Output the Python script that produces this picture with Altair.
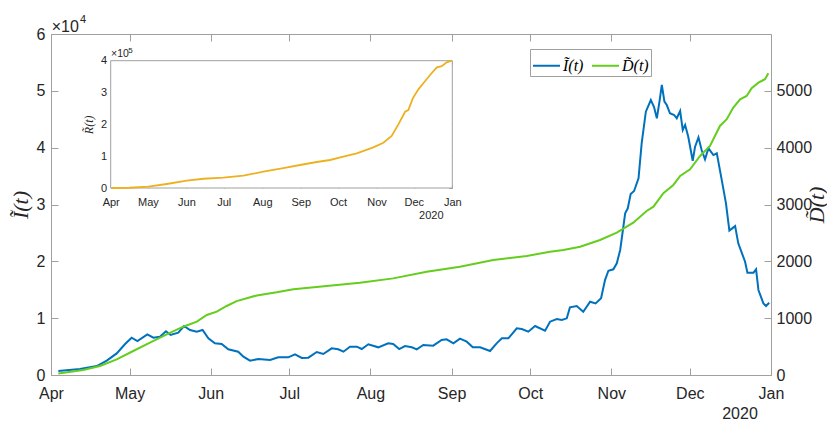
import altair as alt
import pandas as pd

# ---------------- data ----------------
START = pd.Timestamp("2020-04-01")

I_days = [2.8, 11.1, 17.5, 21.3, 25.1, 28.3, 30.8, 33, 36.8, 39.1,
          41.6, 43.9, 45.7, 48.6, 50.8, 53.1, 55.7, 57.9, 60.1, 62.6,
          65.2, 67.7, 71.5, 73.5, 76, 79.2, 83.7, 86.8, 90.6, 93.2,
          95.8, 98.3, 101.5, 104, 107.2, 109.7, 111.7, 114.2, 116.8, 118.7,
          121.2, 125, 128.8, 130.7, 133, 135.2, 137.8, 139.7, 142.2, 146,
          149.2, 151.1, 153.7, 156.2, 158.8, 161.1, 163.9, 167.7, 170.2, 172.2,
          174.7, 177.9, 179.8, 182.3, 184.9, 188.7, 190.6, 193.2, 195.1, 197,
          198.2, 200.8, 203.3, 205.9, 208, 210.1, 211.6, 212.9, 214.8, 216.1,
          217.4, 219.3, 220.3, 221.4, 222.7, 224.4, 225.6, 227.2, 229.1, 230.3,
          231.4, 232.4, 233.3, 234.3, 235.2, 236.4, 238, 239, 240.3, 241.3,
          242.2, 243.4, 245.1, 246, 247.3, 248.5, 249.8, 251.1, 253, 254.3,
          256.2, 257.8, 259.1, 261.3, 262.5, 265.1, 266, 268.3, 269.3, 270.2,
          272.1, 273.1, 274.3]
I_vals = [700, 1060, 1580, 2520, 3800, 5450, 6570, 5980, 7160, 6570,
          6740, 7690, 7040, 7440, 8620, 7920, 7620, 7920, 6460, 5570,
          5450, 4520, 4100, 3220, 2520, 2820, 2640, 3110, 3110, 3640,
          3000, 3050, 4050, 3700, 4690, 4520, 4100, 4980, 4980, 4570,
          5400, 4870, 5570, 5450, 4570, 5100, 4870, 4520, 5280, 5160,
          6160, 6280, 5570, 6390, 5860, 4870, 4870, 4220, 5570, 6450,
          6450, 8210, 8100, 7620, 8620, 7800, 9380, 9850, 9680, 9970,
          11900, 12140, 11140, 12900, 12600, 13500, 16700, 18350, 18600, 19650,
          22000, 28450, 29330, 31850, 32370, 34600, 40770, 46330, 48390, 47200,
          45170, 48100, 51030, 48100, 47500, 46050, 45750, 45170, 46450, 43100,
          44000, 41930, 37700, 40170, 41820, 39590, 37950, 39890, 38700, 39000,
          34300, 30210, 25400, 26200, 23170, 19930, 18000, 18000, 18600, 14960,
          12600, 12140, 12720]

D_days = [2.8, 12.3, 18.7, 25.1, 31.4, 37.8, 44.2, 50.5, 55.7, 59.5,
          63.3, 67.1, 70.9, 78.6, 86.2, 92.6, 105.3, 118, 130.7, 143.5,
          156.2, 168.9, 181.7, 190.6, 195.7, 202.1, 209.7, 216.1, 222.4, 227.5,
          230.1, 233.9, 237.7, 240.3, 244.1, 247.9, 251.7, 255.5, 258.1, 260.6,
          263.2, 265.7, 267.6, 270.2, 272.7, 274]
D_vals = [25, 88, 158, 276, 422, 569, 716, 850, 940, 1056,
          1114, 1214, 1300, 1400, 1455, 1508, 1566, 1624, 1700, 1818,
          1906, 2024, 2094, 2170, 2200, 2258, 2376, 2504, 2680, 2886,
          2962, 3198, 3344, 3502, 3620, 3854, 4030, 4382, 4500, 4705,
          4852, 4910, 5046, 5144, 5204, 5310]

R_days = [0.8, 15, 30.3, 45.1, 61.2, 74.6, 90.7, 106.8, 122.9, 139,
          152.4, 165.9, 176.6, 187.3, 198.1, 211.4, 219.5, 226.2, 231.6, 237,
          239.6, 243.2, 247.7, 251.7, 257.1, 262.5, 266.5, 270.5, 274.6]
R_vals = [0, 800, 4000, 12600, 23000, 29000, 32400, 38700, 51300, 62800,
          72300, 81700, 88000, 98400, 109000, 127800, 142300, 163400, 200000, 239700,
          245000, 281800, 310000, 329000, 355000, 379000, 383000, 395000, 400000]

series_names = ["Ĩ(t)", "D̃(t)"]
month_ticks = [(2020, 4), (2020, 5), (2020, 6), (2020, 7), (2020, 8), (2020, 9),
               (2020, 10), (2020, 11), (2020, 12), (2021, 1)]
I_ticks = [0, 10000, 20000, 30000, 40000, 50000, 60000]
D_ticks = [0, 1000, 2000, 3000, 4000, 5000]
R_ticks = [0, 100000, 200000, 300000, 400000]


def to_dates(days):
    return [START + pd.Timedelta(days=d) for d in days]


dfI = pd.DataFrame({"date": to_dates(I_days), "v": I_vals, "series": series_names[0]})
dfD = pd.DataFrame({"date": to_dates(D_days), "v": D_vals, "series": series_names[1]})
dfR = pd.DataFrame({"date": to_dates(R_days), "v": R_vals})

# ---------------- styling ----------------
BLUE = "#0072BD"
GREEN = "#64CD1E"
ORANGE = "#EDB120"
FRAME = "#a0a0a0"
TXT = "#262626"
SANS = "Liberation Sans"
SERIF = "Liberation Serif"

W, H = 720, 341
IN_X0, IN_X1 = 59.7, 401.3
IN_Y0, IN_Y1 = 26.7, 154.0   # top, bottom (plot coords)
TK = 7
TKI = 3.5

d0 = alt.DateTime(year=2020, month=4, date=1)
d1 = alt.DateTime(year=2021, month=1, date=1)
tick_dates = [alt.DateTime(year=y, month=m, date=1) for (y, m) in month_ticks]


def xmain():
    return alt.Scale(domain=[d0, d1], nice=False)


def xin():
    return alt.Scale(domain=[d0, d1], nice=False, range=[IN_X0, IN_X1])


def yI():
    return alt.Scale(domain=[0, 60000], nice=False)


def yD():
    return alt.Scale(domain=[0, 6000], nice=False)


def yR():
    return alt.Scale(domain=[0, 400000], nice=False, range=[IN_Y1, IN_Y0])


color = alt.Color(
    "series:N",
    scale=alt.Scale(domain=series_names, range=[BLUE, GREEN]),
    legend=alt.Legend(
        title=None, orient="none", legendX=479, legendY=15, direction="horizontal",
        symbolType="stroke", symbolSize=729, symbolStrokeWidth=2,
        labelFont=SERIF, labelFontStyle="italic", labelFontSize=16, labelColor="black",
        strokeColor=FRAME, fillColor="white", padding=2, columnPadding=4, labelOffset=2,
    ),
)

# main I(t) line: bottom x axis + left y axis
lineI = alt.Chart(dfI).mark_line(strokeWidth=2).encode(
    x=alt.X("date:T", scale=xmain(),
            axis=alt.Axis(orient="bottom", values=tick_dates, format="%b", labelFlush=False,
                          offset=-TK, tickSize=TK, domain=False, labelPadding=10,
                          labelFontSize=16, title=None)),
    y=alt.Y("v:Q", scale=yI(),
            axis=alt.Axis(orient="left", values=I_ticks, labelExpr="datum.value / 10000",
                          offset=-TK, tickSize=TK, domain=False, labelPadding=6,
                          labelFontSize=16, title=series_names[0], titleFont=SERIF,
                          titleFontStyle="italic", titleFontWeight="normal", titleFontSize=22,
                          titleAngle=270, titleAlign="center", titleBaseline="middle",
                          titleX=-38, titleY=H / 2)),
    color=color,
)

# main D(t) line: top x ticks + right y axis
lineD = alt.Chart(dfD).mark_line(strokeWidth=2).encode(
    x=alt.X("date:T", scale=xmain(),
            axis=alt.Axis(orient="top", values=tick_dates, labels=False, offset=-TK,
                          tickSize=TK, domain=False, title=None)),
    y=alt.Y("v:Q", scale=yD(),
            axis=alt.Axis(orient="right", values=D_ticks, format="d", offset=-TK, tickSize=TK,
                          domain=False, labelPadding=5, labelFontSize=16,
                          title=series_names[1], titleFont=SERIF, titleFontStyle="italic",
                          titleFontWeight="normal", titleFontSize=22, titleAngle=270,
                          titleAlign="center", titleBaseline="middle",
                          titleX=52, titleY=H / 2)),
    color=color,
)

# inset frame with top / right ticks
inset_frame = alt.Chart(pd.DataFrame({"k": [0]})).mark_rect(
    fill="white", stroke=FRAME, strokeWidth=1
).encode(
    x=alt.XDatum(d0, type="temporal", scale=xin(),
                 axis=alt.Axis(orient="top", values=tick_dates, labels=False,
                               offset=-(IN_Y0 + TKI), tickSize=TKI, domain=False, title=None)),
    x2=alt.X2Datum(d1),
    y=alt.YDatum(0, type="quantitative", scale=yR(),
                 axis=alt.Axis(orient="right", values=R_ticks, labels=False,
                               offset=IN_X1 - TKI - W, tickSize=TKI, domain=False, title=None)),
    y2=alt.Y2Datum(400000),
)

# inset R(t) line
lineR = alt.Chart(dfR).mark_line(strokeWidth=1.8, color=ORANGE).encode(
    x=alt.X("date:T", scale=xin(),
            axis=alt.Axis(orient="bottom", values=tick_dates, format="%b", labelFlush=False,
                          offset=-(H - IN_Y1) - TKI, tickSize=TKI, domain=False,
                          labelPadding=8, labelFontSize=11, title=None)),
    y=alt.Y("v:Q", scale=yR(),
            axis=alt.Axis(orient="left", values=R_ticks, labelExpr="datum.value / 100000",
                          offset=-(IN_X0 + TKI), tickSize=TKI, domain=False, labelPadding=4,
                          labelFontSize=11, title="R̃(t)", titleFont=SERIF,
                          titleFontStyle="italic", titleFontWeight="normal", titleFontSize=12,
                          titleAngle=270, titleAlign="center", titleBaseline="middle",
                          titleX=-26, titleY=(IN_Y0 + IN_Y1) / 2)),
)


def note(text, xdate, yval, xs, ys, size, dx, dy, align="left"):
    return alt.Chart(pd.DataFrame({"t": [text]})).mark_text(
        align=align, baseline="alphabetic", dx=dx, dy=dy, fontSize=size, font=SANS, color=TXT
    ).encode(
        x=alt.XDatum(xdate, type="temporal", scale=xs, axis=None),
        y=alt.YDatum(yval, type="quantitative", scale=ys, axis=None),
        text="t:N",
    )


notes = [
    note("×10", d0, 60000, xmain(), yI(), 16, 0.7, -2.3),
    note("4", d0, 60000, xmain(), yI(), 11, 29, -10.7),
    note("2020", d1, 0, xmain(), yI(), 16, -31, 44, align="center"),
    note("×10", d0, 400000, xin(), yR(), 10.5, 0.3, -3.4),
    note("5", d0, 400000, xin(), yR(), 8, 17.6, -7.4),
    note("2020", d1, 0, xin(), yR(), 11, -21, 30.5, align="center"),
]

chart = alt.layer(lineI, lineD, inset_frame, lineR, *notes).resolve_scale(
    x="independent", y="independent"
).properties(
    width=W, height=H,
    autosize=alt.AutoSizeParams(type="none"),
    padding={"left": 43, "top": 26, "right": 56, "bottom": 46},
).configure_view(
    stroke=FRAME, strokeWidth=1
).configure_axis(
    grid=False, labelFont=SANS, labelColor=TXT, tickColor=FRAME, tickWidth=1,
    titleColor=TXT,
)

chart.save("out.html", embed_options={"renderer": "svg", "actions": False})
